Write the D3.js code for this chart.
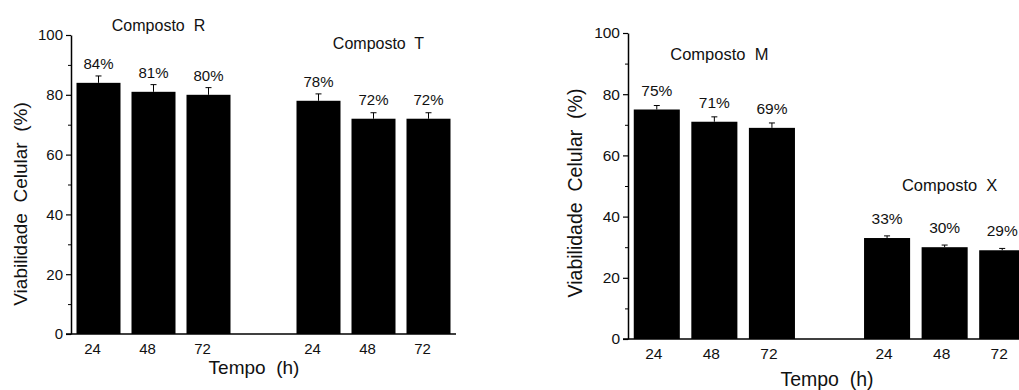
<!DOCTYPE html>
<html>
<head>
<meta charset="utf-8">
<script src="https://cdn.jsdelivr.net/npm/d3@7"></script>
<style>
  body { margin: 0; background: #fff; }
  text { font-family: "Liberation Sans", Arial, sans-serif; fill: #111; white-space: pre; }
</style>
</head>
<body>
<div id="chart"></div>
<script>
// Chart data
const times = ["24", "48", "72"];
const yTicks = [0, 20, 40, 60, 80, 100];
const yMinorTicks = [10, 30, 50, 70, 90];

const leftNames = ["Composto  R", "Composto  T"];
const leftValues = [[84, 81, 80], [78, 72, 72]];
const leftErrors = [[2.3, 2.4, 2.4], [2.3, 2.0, 2.0]];

const rightNames = ["Composto  M", "Composto  X"];
const rightValues = [[75, 71, 69], [33, 30, 29]];
const rightErrors = [[1.3, 1.6, 1.6], [0.7, 0.7, 0.6]];

const width = 1019;
const height = 390;

const svg = d3.select("#chart")
    .append("svg")
    .attr("width", width)
    .attr("height", height);

svg.append("rect").attr("width", width).attr("height", height).attr("fill", "#fff");

// Layout of each panel
const panels = [
    {
        names: leftNames, values: leftValues, errors: leftErrors,
        x0: 71, x1: 456, yBottom: 334, yTop: 35,
        font: 15, groupFont: 16, titleFont: 19, tickShift: -6,
        groupLabelY: [25, 43],
        xTitle: [254, 374], yTitle: [20, 204]
    },
    {
        names: rightNames, values: rightValues, errors: rightErrors,
        x0: 628, x1: 1031, yBottom: 339, yTop: 33,
        font: 15.5, groupFont: 16.5, titleFont: 19.5, tickShift: -3,
        groupLabelY: [54, 185],
        xTitle: [827, 386], yTitle: [575, 193]
    }
];

panels.forEach(p => drawPanel(p));

function drawPanel(p) {
    // slots: 3 bars, an empty slot, 3 bars
    const slots = [];
    p.names.forEach((name, gi) => {
        if (gi > 0) slots.push("gap" + gi);
        times.forEach(t => slots.push(gi + "-" + t));
    });

    const x = d3.scaleBand()
        .domain(slots)
        .range([p.x0, p.x1])
        .paddingInner(0.2)
        .paddingOuter(0.1);

    const y = d3.scaleLinear()
        .domain([0, 100])
        .range([p.yBottom, p.yTop]);

    const bars = [];
    p.names.forEach((name, gi) => {
        times.forEach((t, ti) => {
            bars.push({ key: gi + "-" + t, time: t, value: p.values[gi][ti], err: p.errors[gi][ti] });
        });
    });

    const g = svg.append("g");

    // Bars
    g.selectAll("rect.bar")
        .data(bars)
        .enter()
        .append("rect")
        .attr("class", "bar")
        .attr("x", d => x(d.key))
        .attr("y", d => y(d.value))
        .attr("width", x.bandwidth())
        .attr("height", d => y(0) - y(d.value))
        .attr("fill", "#000");

    // Error bars (upper half)
    const cx = d => x(d.key) + x.bandwidth() / 2;
    g.selectAll("line.err")
        .data(bars)
        .enter()
        .append("line")
        .attr("x1", cx).attr("x2", cx)
        .attr("y1", d => y(d.value))
        .attr("y2", d => y(d.value + d.err))
        .attr("stroke", "#000")
        .attr("stroke-width", 1);

    g.selectAll("line.cap")
        .data(bars)
        .enter()
        .append("line")
        .attr("x1", d => cx(d) - 3).attr("x2", d => cx(d) + 3)
        .attr("y1", d => y(d.value + d.err))
        .attr("y2", d => y(d.value + d.err))
        .attr("stroke", "#000")
        .attr("stroke-width", 1);

    // Value labels
    g.selectAll("text.val")
        .data(bars)
        .enter()
        .append("text")
        .attr("x", cx)
        .attr("y", d => y(d.value) - 14)
        .attr("text-anchor", "middle")
        .style("font-size", p.font + "px")
        .text(d => d.value + "%");

    // Y axis
    const yAxis = d3.axisLeft(y)
        .tickValues(yTicks)
        .tickSize(5)
        .tickPadding(3)
        .tickSizeOuter(0);
    const ya = g.append("g")
        .attr("transform", `translate(${p.x0},0)`)
        .call(yAxis);
    ya.select(".domain").attr("stroke", "#000").attr("stroke-width", 1.5);
    ya.selectAll(".tick line").attr("stroke", "#000").attr("stroke-width", 1.2);
    ya.selectAll(".tick text")
        .style("font-size", p.font + "px")
        .style("font-family", "'Liberation Sans', Arial, sans-serif")
        .attr("fill", "#111");

    const yMinor = d3.axisLeft(y).tickValues(yMinorTicks).tickSize(3).tickFormat("");
    const ym = g.append("g")
        .attr("transform", `translate(${p.x0},0)`)
        .call(yMinor);
    ym.select(".domain").remove();
    ym.selectAll(".tick line").attr("stroke", "#000").attr("stroke-width", 1);

    // X axis line (no tick marks)
    g.append("line")
        .attr("x1", p.x0 - 5).attr("x2", p.x1)
        .attr("y1", y(0)).attr("y2", y(0))
        .attr("stroke", "#000")
        .attr("stroke-width", 1.5);

    g.selectAll("text.xt")
        .data(bars)
        .enter()
        .append("text")
        .attr("x", d => cx(d) + p.tickShift)
        .attr("y", y(0) + 19.5)
        .attr("text-anchor", "middle")
        .style("font-size", p.font + "px")
        .text(d => d.time);

    // Group labels
    p.names.forEach((name, gi) => {
        const mid = x(gi + "-48") + x.bandwidth() / 2 + 5;
        g.append("text")
            .attr("x", mid)
            .attr("y", p.groupLabelY[gi] + 5.5)
            .attr("text-anchor", "middle")
            .style("font-size", p.groupFont + "px")
            .text(name);
    });

    // Axis titles
    g.append("text")
        .attr("x", p.xTitle[0])
        .attr("y", p.xTitle[1])
        .attr("text-anchor", "middle")
        .style("font-size", p.titleFont + "px")
        .text("Tempo  (h)");

    g.append("text")
        .attr("transform", `translate(${p.yTitle[0] + 7},${p.yTitle[1]}) rotate(-90)`)
        .attr("text-anchor", "middle")
        .style("font-size", p.titleFont + "px")
        .text("Viabilidade  Celular  (%)");
}
</script>
</body>
</html>
